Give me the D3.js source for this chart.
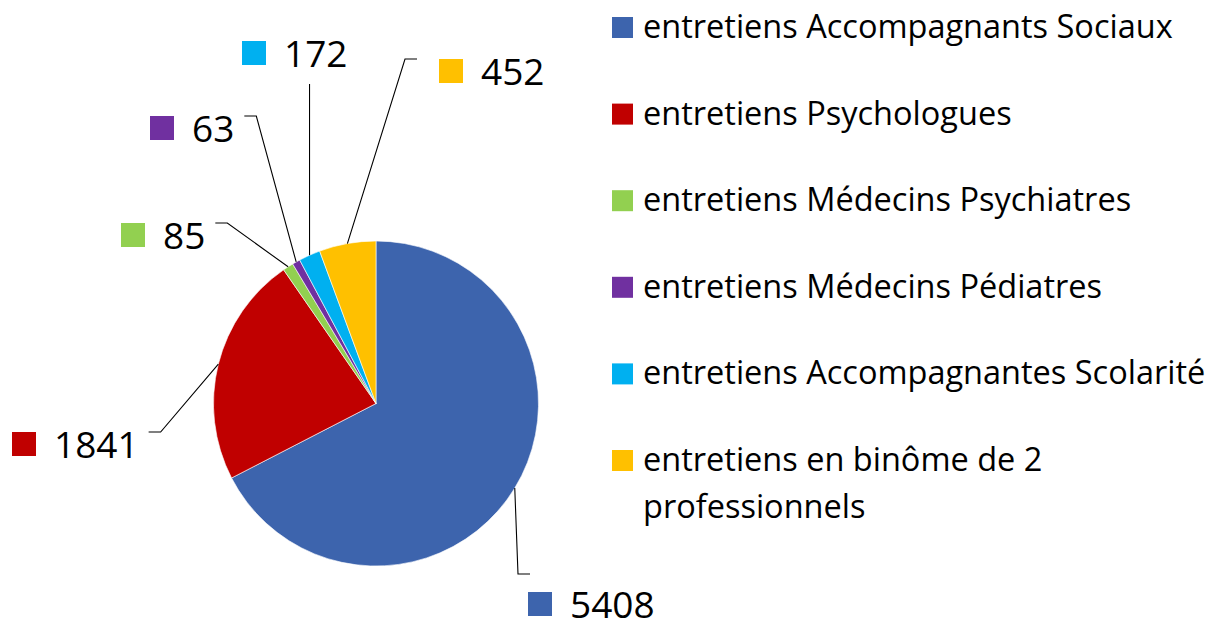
<!DOCTYPE html>
<html>
<head>
<meta charset="utf-8">
<script src="https://cdn.jsdelivr.net/npm/d3@7"></script>
<style>
  html, body { margin: 0; padding: 0; background: #fff; }
  svg { display: block; }
  text { font-family: "Open Sans", "Noto Sans", sans-serif; fill: #000; }
</style>
</head>
<body>
<svg id="chart" width="1210" height="620"></svg>
<script>
// ---- data ----
const categories = [
  "entretiens Accompagnants Sociaux",
  "entretiens Psychologues",
  "entretiens Médecins Psychiatres",
  "entretiens Médecins Pédiatres",
  "entretiens Accompagnantes Scolarité",
  "entretiens en binôme de 2 professionnels"
];
const values = [5408, 1841, 85, 63, 172, 452];
const colors = ["#3D64AD", "#C00000", "#92D050", "#7030A0", "#00B0F0", "#FFC000"];

// ---- layout (label boxes: square top-left, and which side the leader attaches) ----
const labelAnchors = [
  { x: 528, y: 592, attach: "top" },
  { x: 12,  y: 432, attach: "right" },
  { x: 121, y: 223, attach: "right" },
  { x: 150, y: 116, attach: "right" },
  { x: 242, y: 41,  attach: "bottom" },
  { x: 439, y: 59,  attach: "left" }
];

const W = 1210, H = 620;
const cx = 376, cy = 403.5, R = 162.5;
const svg = d3.select("#chart");

const pie = d3.pie().sort(null).value(d => d).startAngle(0).endAngle(2 * Math.PI);
const arcs = pie(values);
const arc = d3.arc().innerRadius(0).outerRadius(R);

const g = svg.append("g").attr("transform", `translate(${cx},${cy})`);
g.selectAll("path.slice")
  .data(arcs)
  .join("path")
  .attr("class", "slice")
  .attr("d", arc)
  .attr("fill", (d, i) => colors[i])
  .attr("stroke", "#fff")
  .attr("stroke-width", 0.6);

// ---- data labels with leader lines ----
const labelFont = 37;
const labels = svg.append("g");
const leaders = svg.append("g");

arcs.forEach((d, i) => {
  const a = labelAnchors[i];
  const lg = labels.append("g");
  lg.append("rect")
    .attr("x", a.x).attr("y", a.y)
    .attr("width", 24).attr("height", 24)
    .attr("fill", colors[i]);
  const t = lg.append("text")
    .attr("x", a.x + 42)
    .attr("y", a.y + 25.5)
    .attr("font-size", labelFont)
    .text(d3.format("d")(values[i]));
  const tw = t.node().getComputedTextLength();
  const textRight = a.x + 42 + tw;

  const mid = (d.startAngle + d.endAngle) / 2;
  const px = cx + R * Math.sin(mid);
  const py = cy - R * Math.cos(mid);

  let pts;
  if (a.attach === "right") {
    pts = [[px, py], [textRight + 22, a.y], [textRight + 10, a.y]];
  } else if (a.attach === "left") {
    pts = [[px, py], [a.x - 34, a.y], [a.x - 22, a.y]];
  } else if (a.attach === "top") {
    pts = [[px, py], [a.x - 10, a.y - 18], [a.x + 2, a.y - 18]];
  } else {
    pts = [[px, py], [px, a.y + 43]];
  }
  leaders.append("path")
    .attr("d", d3.line()(pts))
    .attr("fill", "none")
    .attr("stroke", "#000")
    .attr("stroke-width", 1.1);
});

// ---- legend ----
const legendX = 612, legendTop = 17, legendStep = 86.6, legendFont = 32.5;
const legendMaxW = 585, lineH = 47;
const legend = svg.append("g");
categories.forEach((c, i) => {
  const y0 = legendTop + i * legendStep;
  legend.append("rect")
    .attr("x", legendX).attr("y", y0)
    .attr("width", 21).attr("height", 21)
    .attr("fill", colors[i]);
  const t = legend.append("text")
    .attr("x", legendX + 31)
    .attr("y", y0 + 21)
    .attr("font-size", legendFont);
  // wrap words if wider than available space
  const words = c.split(" ");
  let line = [];
  let tspan = t.append("tspan").attr("x", legendX + 31).attr("dy", 0);
  words.forEach(w => {
    line.push(w);
    tspan.text(line.join(" "));
    if (tspan.node().getComputedTextLength() > legendMaxW && line.length > 1) {
      line.pop();
      tspan.text(line.join(" "));
      line = [w];
      tspan = t.append("tspan").attr("x", legendX + 31).attr("dy", lineH).text(w);
    }
  });
});
</script>
</body>
</html>
